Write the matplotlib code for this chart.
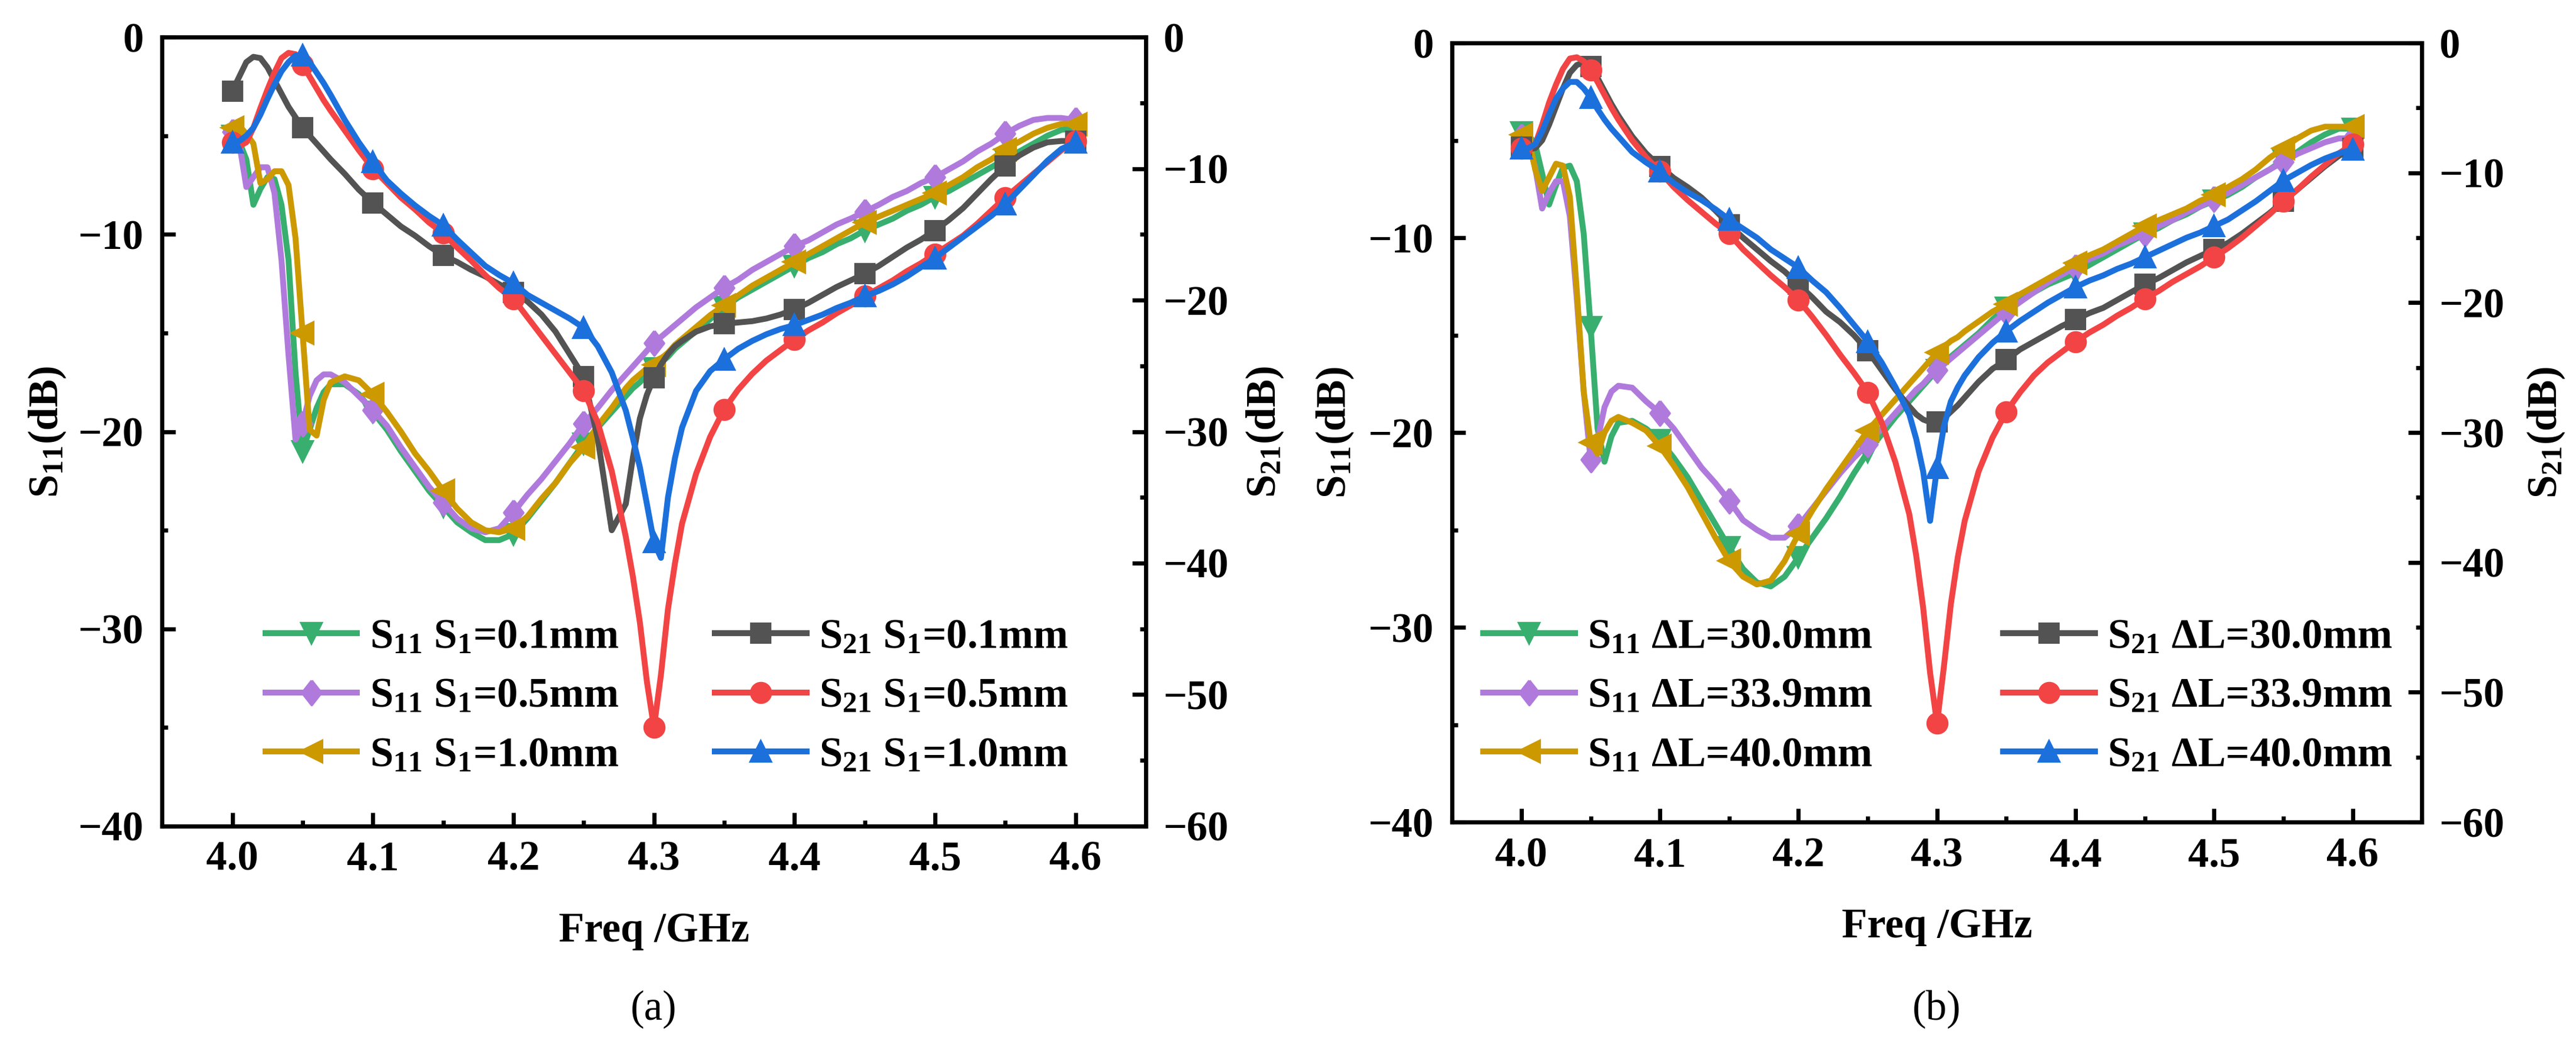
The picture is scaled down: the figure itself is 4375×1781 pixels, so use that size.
import numpy as np
import matplotlib
matplotlib.use('Agg')
import matplotlib.pyplot as plt
from matplotlib.ticker import MultipleLocator, FormatStrFormatter

plt.rcParams['font.family'] = ['Liberation Serif', 'DejaVu Serif']
plt.rcParams['font.weight'] = 'bold'
plt.rcParams['mathtext.fontset'] = 'custom'
plt.rcParams['mathtext.rm'] = 'Liberation Serif:bold'
plt.rcParams['mathtext.it'] = 'Liberation Serif:bold'
plt.rcParams['mathtext.bf'] = 'Liberation Serif:bold'
plt.rcParams['axes.unicode_minus'] = True

# frequency grid (GHz), denser around the sharp features
freq = np.round(np.concatenate([
    np.arange(4.000, 4.0701, 0.005),
    np.arange(4.08, 4.2801, 0.01),
    np.arange(4.285, 4.3151, 0.005),
    np.arange(4.32, 4.6001, 0.01)]), 3)

# ---------------- panel (a): S1 sweep ----------------
s11_a_01 = [-5.0, -5.3, -6.2, -8.5, -7.7, -7.1, -7.2, -8.5, -11.3, -17.0, -21.0, -19.9, -18.8, -18.0, -17.6,
            -17.6, -18.1, -19.0, -19.9, -21.0, -22.0, -23.0, -23.8, -24.6, -25.1, -25.5, -25.5, -25.2, -24.4,
            -23.5, -22.6, -21.6, -20.6, -19.8, -19.0, -18.2,
            -17.8, -17.5, -17.1, -16.8, -16.5, -16.2, -15.8,
            -15.5, -14.9, -14.3, -13.7, -13.2, -12.8, -12.4, -12.0, -11.6, -11.2, -10.9, -10.5, -10.2, -9.8,
            -9.5, -9.2, -8.8, -8.5, -8.1, -7.8, -7.4, -7.0, -6.6, -6.2, -5.8, -5.4, -5.0, -4.7, -4.6]
s11_a_05 = [-4.8, -5.4, -7.6, -7.1, -6.6, -6.6, -7.9, -11.3, -16.1, -20.4, -19.6, -18.2, -17.4, -17.1, -17.1,
            -17.5, -18.2, -18.9, -19.7, -20.8, -21.8, -22.8, -23.6, -24.4, -24.9, -25.1, -24.9, -24.1, -23.2,
            -22.4, -21.5, -20.6, -19.6, -18.8, -17.9, -17.1,
            -16.7, -16.3, -15.9, -15.5, -15.2, -14.9, -14.6,
            -14.3, -13.7, -13.2, -12.7, -12.3, -11.8, -11.4, -11.0, -10.6, -10.3, -9.9, -9.5, -9.2, -8.85,
            -8.5, -8.1, -7.8, -7.4, -7.1, -6.7, -6.3, -5.8, -5.4, -4.9, -4.5, -4.2, -4.1, -4.1, -4.2]
s11_a_10 = [-4.6, -4.5, -4.9, -5.4, -7.4, -7.2, -6.8, -6.8, -7.5, -10.2, -15.0, -19.9, -20.2, -18.4, -17.5,
            -17.2, -17.4, -18.1, -19.0, -20.0, -21.1, -22.0, -23.0, -23.9, -24.6, -25.0, -25.1, -24.9, -24.3,
            -23.4, -22.6, -21.6, -20.8, -19.7, -18.8, -17.8,
            -17.4, -17.1, -16.8, -16.6, -16.3, -16.0, -15.6,
            -15.3, -14.7, -14.1, -13.6, -13.1, -12.6, -12.2, -11.8, -11.4, -11.0, -10.6, -10.2, -9.8, -9.4,
            -9.1, -8.8, -8.5, -8.2, -7.9, -7.5, -7.1, -6.6, -6.2, -5.7, -5.3, -4.9, -4.6, -4.4, -4.4]
s21_a_01 = [-4.1, -3.0, -1.9, -1.5, -1.6, -2.3, -3.3, -4.3, -5.3, -6.1, -6.9, -7.5, -8.1, -8.7, -9.3,
            -10.4, -11.6, -12.6, -13.5, -14.4, -15.1, -15.9, -16.6, -17.1, -17.7, -18.2, -18.8, -19.4, -20.1,
            -21.1, -22.4, -24.1, -25.8, -30.5, -37.5, -35.5,
            -32.0, -29.0, -27.2, -25.9, -24.9, -24.1, -23.5,
            -23.1, -22.4, -22.0, -21.8, -21.7, -21.6, -21.4, -21.1, -20.7, -20.2, -19.6, -19.0, -18.5, -18.0,
            -17.4, -16.7, -16.0, -15.4, -14.7, -13.9, -13.0, -11.9, -10.8, -9.8, -9.0, -8.4, -8.0, -7.9, -7.9]
s21_a_05 = [-8.0, -8.3, -8.0, -6.9, -5.4, -4.0, -2.7, -1.6, -1.2, -1.3, -2.1, -3.0, -3.9, -4.8, -5.6,
            -7.1, -8.6, -10.0, -11.1, -12.2, -13.1, -14.1, -14.9, -16.0, -17.0, -18.1, -19.1, -19.9, -21.3,
            -22.7, -24.1, -25.5, -26.9, -29.3, -33.0, -38.0,
            -41.0, -44.5, -49.0, -52.5, -48.5, -43.5, -40.0,
            -37.0, -33.2, -30.4, -28.3, -26.8, -25.6, -24.6, -23.8, -23.0, -22.3, -21.7, -21.0, -20.4, -19.7,
            -19.1, -18.5, -17.8, -17.2, -16.5, -15.8, -15.1, -14.2, -13.2, -12.2, -11.3, -10.4, -9.5, -8.6, -7.9]
s21_a_10 = [-8.0, -7.9, -7.5, -6.9, -5.9, -4.7, -3.6, -2.6, -1.9, -1.4, -1.4, -1.9, -2.7, -3.5, -4.4,
            -6.3, -8.0, -9.5, -10.9, -11.9, -12.8, -13.6, -14.3, -15.4, -16.4, -17.4, -18.1, -18.7, -19.6,
            -20.2, -20.8, -21.4, -22.1, -23.5, -25.5, -28.4,
            -30.5, -32.7, -35.5, -38.4, -39.6, -35.0, -32.0,
            -29.7, -26.9, -25.4, -24.5, -23.7, -23.1, -22.6, -22.2, -21.9, -21.5, -21.1, -20.6, -20.2, -19.7,
            -19.3, -18.8, -18.2, -17.5, -16.8, -16.0, -15.2, -14.4, -13.6, -12.7, -11.6, -10.5, -9.4, -8.5, -8.0]

# ---------------- panel (b): delta L sweep ----------------
s11_b_30 = [-4.6, -4.7, -5.2, -6.7, -8.3, -7.3, -6.4, -6.3, -7.1, -9.8, -14.6, -19.8, -21.5, -20.2, -19.5,
            -19.4, -19.8, -20.4, -21.3, -22.3, -23.5, -24.7, -25.9, -27.0, -27.7, -27.9, -27.4, -26.4, -25.4,
            -24.4, -23.3, -22.1, -21.0, -20.1, -19.2, -18.4,
            -18.0, -17.6, -17.2, -16.8, -16.5, -16.1, -15.8,
            -15.5, -14.9, -14.2, -13.6, -13.2, -12.8, -12.4, -12.1, -11.8, -11.4, -11.0, -10.6, -10.2, -9.8,
            -9.5, -9.1, -8.8, -8.4, -8.1, -7.8, -7.4, -6.9, -6.5, -6.0, -5.6, -5.1, -4.7, -4.4, -4.4]
s11_b_339 = [-4.8, -5.1, -6.4, -8.5, -7.7, -7.1, -7.1, -8.9, -13.1, -17.9, -21.4, -20.4, -18.7, -17.9, -17.6,
             -17.7, -18.4, -19.0, -19.8, -20.8, -21.8, -22.6, -23.5, -24.5, -25.0, -25.4, -25.4, -24.8, -23.9,
             -23.0, -22.1, -21.3, -20.6, -19.8, -19.0, -18.2,
             -17.8, -17.5, -17.1, -16.8, -16.5, -16.2, -15.9,
             -15.6, -15.0, -14.4, -13.8, -13.3, -12.8, -12.3, -11.9, -11.5, -11.1, -10.8, -10.4, -10.1, -9.8,
             -9.4, -9.1, -8.7, -8.4, -8.0, -7.7, -7.3, -6.9, -6.5, -6.1, -5.7, -5.4, -5.1, -4.9, -4.9]
s11_b_40 = [-4.7, -4.8, -6.5, -7.6, -6.9, -6.2, -6.3, -7.9, -12.7, -17.9, -20.5, -21.1, -20.0, -19.4, -19.2,
            -19.5, -19.9, -20.7, -21.7, -22.8, -24.1, -25.4, -26.6, -27.4, -27.8, -27.6, -26.6, -25.2, -24.0,
            -22.9, -21.9, -20.9, -19.9, -19.1, -18.3, -17.5,
            -17.1, -16.7, -16.3, -15.9, -15.6, -15.3, -15.1,
            -14.8, -14.3, -13.8, -13.4, -12.9, -12.5, -12.1, -11.7, -11.3, -10.9, -10.6, -10.2, -9.8, -9.4,
            -9.1, -8.8, -8.5, -8.1, -7.8, -7.4, -7.0, -6.5, -5.9, -5.4, -4.9, -4.5, -4.3, -4.3, -4.3]
s21_b_30 = [-8.0, -8.2, -8.1, -7.5, -6.3, -4.9, -3.5, -2.3, -1.7, -1.5, -1.8, -2.7, -3.7, -4.7, -5.6,
            -7.2, -8.5, -9.5, -10.4, -11.1, -11.9, -12.9, -14.0, -15.0, -15.9, -16.8, -17.6, -18.6, -19.6,
            -20.7, -21.5, -22.5, -23.7, -25.2, -26.7, -28.0,
            -28.6, -29.0, -29.2, -29.2, -28.9, -28.4, -27.9,
            -27.3, -26.1, -25.1, -24.4, -23.6, -23.0, -22.4, -21.8, -21.3, -20.8, -20.4, -19.8, -19.2, -18.6,
            -18.1, -17.5, -16.9, -16.4, -15.9, -15.4, -14.7, -13.9, -13.1, -12.2, -11.3, -10.4, -9.5, -8.7, -8.1]
s21_b_339 = [-8.1, -8.1, -7.8, -6.3, -4.6, -3.2, -2.0, -1.2, -1.1, -1.4, -2.1, -3.0, -4.0, -5.0, -5.9,
             -7.5, -8.8, -9.9, -11.1, -12.1, -13.0, -13.9, -14.7, -15.9, -16.9, -17.9, -18.8, -19.8, -21.1,
             -22.5, -24.0, -25.4, -26.9, -29.2, -32.3, -36.3,
             -39.5, -43.5, -48.5, -52.4, -48.0, -43.2, -39.6,
             -36.8, -33.0, -30.4, -28.4, -26.9, -25.6, -24.6, -23.8, -23.0, -22.3, -21.7, -21.0, -20.4, -19.7,
             -19.1, -18.4, -17.8, -17.2, -16.5, -15.8, -15.0, -14.1, -13.2, -12.2, -11.3, -10.3, -9.4, -8.5, -7.8]
s21_b_40 = [-8.1, -8.1, -7.8, -6.8, -5.5, -4.3, -3.5, -3.0, -3.0, -3.5, -4.2, -5.1, -5.9, -6.6, -7.2,
            -8.4, -9.2, -9.9, -10.8, -11.5, -12.1, -12.8, -13.6, -14.3, -15.0, -15.9, -16.6, -17.3, -18.3,
            -19.2, -20.4, -21.7, -23.0, -24.6, -26.5, -28.6,
            -30.5, -33.0, -36.8, -32.7, -29.5, -27.6, -26.5,
            -25.6, -24.2, -23.1, -22.2, -21.4, -20.7, -20.0, -19.4, -18.8, -18.3, -17.9, -17.4, -17.0, -16.5,
            -16.0, -15.5, -15.0, -14.6, -14.1, -13.6, -12.9, -12.2, -11.4, -10.6, -10.0, -9.4, -8.9, -8.5, -8.2]

labels_a11 = [r'S$_{11}$ S$_{1}$=0.1mm', r'S$_{11}$ S$_{1}$=0.5mm', r'S$_{11}$ S$_{1}$=1.0mm']
labels_a21 = [r'S$_{21}$ S$_{1}$=0.1mm', r'S$_{21}$ S$_{1}$=0.5mm', r'S$_{21}$ S$_{1}$=1.0mm']
labels_b11 = [r'S$_{11}$ ΔL=30.0mm', r'S$_{11}$ ΔL=33.9mm', r'S$_{11}$ ΔL=40.0mm']
labels_b21 = [r'S$_{21}$ ΔL=30.0mm', r'S$_{21}$ ΔL=33.9mm', r'S$_{21}$ ΔL=40.0mm']

c11 = ['#38AF6E', '#B07ADC', '#CC9900']
c21 = ['#535353', '#F24444', '#1C70DC']
diamond = [(0, 1), (0.78, 0), (0, -1), (-0.78, 0), (0, 1)]
m11 = [('v', 8), (diamond, 10), ('<', 8.5)]
m21 = [('s', 7.5), ('o', 8), ('^', 8)]

FS = 17
mark_idx = [i for i, f in enumerate(freq) if abs(round(f / 0.05) * 0.05 - f) < 1e-6]


def style_axes(ax, ax2):
  for a in (ax, ax2):
    for sp in a.spines.values():
      sp.set_linewidth(1.7)
  ax.set_xlim(3.95, 4.65)
  ax.set_ylim(-40, 0)
  ax2.set_ylim(-60, 0)
  ax.xaxis.set_major_locator(MultipleLocator(0.1))
  ax.xaxis.set_minor_locator(MultipleLocator(0.05))
  ax.xaxis.set_major_formatter(FormatStrFormatter('%.1f'))
  ax.yaxis.set_major_locator(MultipleLocator(10))
  ax.yaxis.set_minor_locator(MultipleLocator(5))
  ax2.yaxis.set_major_locator(MultipleLocator(10))
  ax2.yaxis.set_minor_locator(MultipleLocator(5))
  ax.tick_params(which='both', direction='in', width=1.7, labelsize=FS, top=False, right=False)
  ax.tick_params(axis='y', which='major', length=5.5, pad=7.5)
  ax.tick_params(axis='x', which='major', length=5.5, pad=6)
  ax.tick_params(which='minor', length=2.3)
  ax2.tick_params(which='both', direction='in', width=1.7, labelsize=FS)
  ax2.tick_params(which='major', length=5.5, pad=7)
  ax2.tick_params(which='minor', length=2.3)
  ax.set_xlabel('Freq /GHz', fontsize=FS, fontweight='bold', va='center')
  ax.set_ylabel(r'S$_{11}$(dB)', fontsize=FS, fontweight='bold', va='center')
  ax2.set_ylabel(r'S$_{21}$(dB)', fontsize=FS, fontweight='bold', va='center', rotation=90)


def draw_panel(ax, ax2, s11_list, s21_list, lab11, lab21):
  h11 = []
  h21 = []
  for y, c, (mk, ms), lb in zip(s11_list, c11, m11, lab11):
    ln, = ax.plot(freq, y, color=c, lw=2.4, marker=mk, ms=ms, mec=c, mfc=c,
                  markevery=mark_idx, label=lb)
    h11.append(ln)
  for y, c, (mk, ms), lb in zip(s21_list, c21, m21, lab21):
    ln, = ax2.plot(freq, y, color=c, lw=2.4, marker=mk, ms=ms, mec=c, mfc=c,
                   markevery=mark_idx, label=lb)
    h21.append(ln)
  return h11, h21


def add_legends(ax2, h11, h21, x1, x2, ymid):
  kw = dict(loc='center left', frameon=False, fontsize=FS, borderpad=0, borderaxespad=0,
            handlelength=2.2, handletextpad=0.3, labelspacing=0.5)
  leg1 = ax2.legend(h11, [h.get_label() for h in h11], bbox_to_anchor=(x1, ymid), **kw)
  ax2.add_artist(leg1)
  ax2.legend(h21, [h.get_label() for h in h21], bbox_to_anchor=(x2, ymid), **kw)


fig = plt.figure(figsize=(4375 / 300, 1781 / 300), dpi=300)

# panel (a)
ax_a = fig.add_axes([0.0629, 0.2117, 0.3819, 0.7529])
ax_a2 = ax_a.twinx()
ha11, ha21 = draw_panel(ax_a, ax_a2, [s11_a_01, s11_a_05, s11_a_10],
                        [s21_a_01, s21_a_05, s21_a_10], labels_a11, labels_a21)
style_axes(ax_a, ax_a2)
ax_a.xaxis.set_label_coords(0.5, -0.133)
ax_a.yaxis.set_label_coords(-0.117, 0.5)
ax_a2.yaxis.set_label_coords(1.121, 0.5)
add_legends(ax_a2, ha11, ha21, 0.105, 0.562, 0.164)

# panel (b)
ax_b = fig.add_axes([0.5637, 0.2156, 0.3765, 0.7434])
ax_b2 = ax_b.twinx()
hb11, hb21 = draw_panel(ax_b, ax_b2, [s11_b_30, s11_b_339, s11_b_40],
                        [s21_b_30, s21_b_339, s21_b_40], labels_b11, labels_b21)
style_axes(ax_b, ax_b2)
ax_b.xaxis.set_label_coords(0.5, -0.135)
ax_b.yaxis.set_label_coords(-0.121, 0.5)
ax_b2.yaxis.set_label_coords(1.128, 0.5)
add_legends(ax_b2, hb11, hb21, 0.032, 0.568, 0.161)

fig.text(0.2537, 0.037, '(a)', ha='center', va='center', fontsize=FS, fontweight='normal')
fig.text(0.7519, 0.037, '(b)', ha='center', va='center', fontsize=FS, fontweight='normal')

fig.savefig('out.png', dpi=300)
